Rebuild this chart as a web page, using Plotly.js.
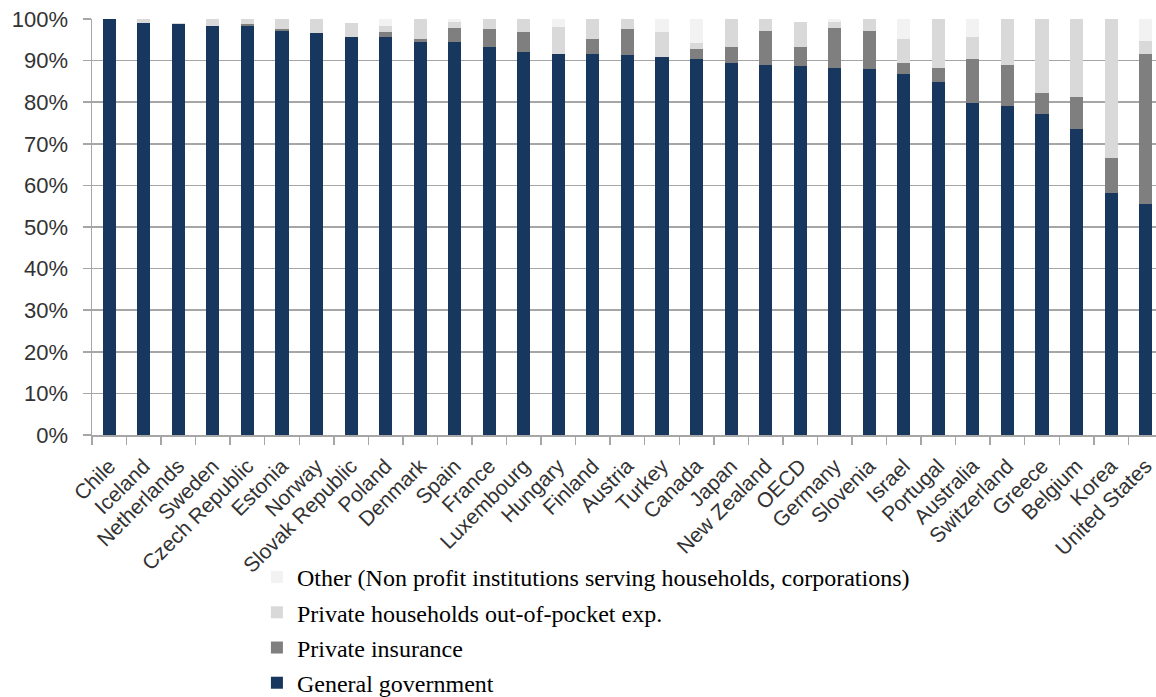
<!DOCTYPE html>
<html>
<head>
<meta charset="utf-8">
<script src="https://cdn.plot.ly/plotly-3.0.1.min.js"></script>
<style>html,body{margin:0;padding:0;background:#fff;}#chart{width:1156px;height:697px;}</style>
</head>
<body>
<div id="chart"></div>
<script>
const countries = ["Chile","Iceland","Netherlands","Sweden","Czech Republic","Estonia","Norway","Slovak Republic","Poland","Denmark","Spain","France","Luxembourg","Hungary","Finland","Austria","Turkey","Canada","Japan","New Zealand","OECD","Germany","Slovenia","Israel","Portugal","Australia","Switzerland","Greece","Belgium","Korea","United States"];
const generalGovernment = [100, 99.0, 98.7, 98.3, 98.3, 97.2, 96.7, 95.6, 95.6, 94.4, 94.4, 93.3, 92.1, 91.7, 91.7, 91.3, 90.9, 90.5, 89.4, 89.0, 88.6, 88.3, 87.9, 86.8, 84.8, 79.7, 79.0, 77.1, 73.6, 58.2, 55.5];
const privateInsurance = [0, 0, 0, 0, 0.4, 0.3, 0, 0, 1.2, 0.8, 3.5, 4.3, 4.7, 0, 3.4, 6.2, 0, 2.3, 3.9, 8.1, 4.7, 9.6, 9.2, 2.6, 3.5, 10.8, 10.0, 5.1, 7.7, 8.4, 36.2];
const outOfPocket = [0, 1.0, 0.4, 1.7, 1.3, 2.5, 3.3, 3.5, 1.5, 4.8, 1.5, 2.4, 3.2, 6.4, 4.9, 2.5, 5.9, 1.5, 6.7, 2.9, 5.9, 1.5, 2.9, 5.8, 11.7, 5.1, 11.0, 17.8, 18.7, 33.4, 3.0];
const other = [0, 0, 0, 0, 0, 0, 0, 0, 1.6, 0, 0.6, 0, 0, 1.8, 0, 0, 3.2, 5.7, 0, 0, 0, 0.6, 0, 4.8, 0, 4.4, 0, 0, 0, 0, 5.3];
const seriesNames = ["General government","Private insurance","Private households out-of-pocket exp.","Other (Non profit institutions serving households, corporations)"];
const yTicks = [0,10,20,30,40,50,60,70,80,90,100];

const colors = ["#17375e","#7f7f7f","#d9d9d9","#f2f2f2"];
const values = [generalGovernment, privateInsurance, outOfPocket, other];
const traces = values.map((v,i)=>({
  type:'bar', x:countries, y:v, name:seriesNames[i],
  legendgroup:'g'+i, legendrank: 10 - i,
  marker:{color:colors[i], line:{width:0}},
  hoverinfo:'skip'
}));

const layout = {
  width:1156, height:697,
  margin:{l:92, r:0, t:19, b:262, autoexpand:false},
  barmode:'stack', bargap:0.62,
  paper_bgcolor:'#fff', plot_bgcolor:'#fff',
  showlegend:true,
  legend:{
    traceorder:'grouped', tracegroupgap:1, bgcolor:'rgba(0,0,0,0)',
    xref:'paper', x:0.155, xanchor:'left',
    yref:'container', y:0.2037, yanchor:'top',
    font:{family:'Liberation Serif, Times New Roman, serif', size:24, color:'#000'},
    itemclick:false, itemdoubleclick:false
  },
  xaxis:{
    type:'category', range:[-0.5, 30.3], automargin:false,
    tickangle:-45, tickson:'boundaries', ticks:'outside', ticklen:8, tickcolor:'#a6a6a6', tickwidth:1.5,
    ticklabelstandoff:9,
    showgrid:false, showline:true, linecolor:'#a6a6a6', linewidth:1.5,
    tickfont:{family:'Liberation Sans, Arial, sans-serif', size:21, color:'#333'}
  },
  yaxis:{
    range:[0,100], tickvals:yTicks, ticktext:yTicks.map(t=>t+'%'), automargin:false,
    ticks:'outside', ticklen:8, tickcolor:'#a6a6a6', tickwidth:1.5,
    ticklabelstandoff:10,
    showgrid:true, gridcolor:'#a6a6a6', gridwidth:1.5,
    showline:true, linecolor:'#a6a6a6', linewidth:1.5, zeroline:false,
    tickfont:{family:'Liberation Sans, Arial, sans-serif', size:22, color:'#333'}
  }
};
Plotly.newPlot('chart', traces, layout, {staticPlot:true, displayModeBar:false});
</script>
</body>
</html>
